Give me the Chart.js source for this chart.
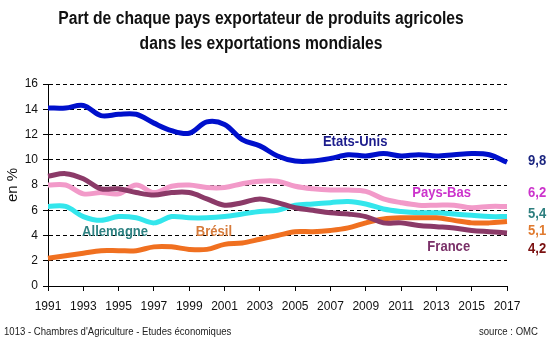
<!DOCTYPE html>
<html>
<head>
<meta charset="utf-8">
<script src="https://cdn.jsdelivr.net/npm/chart.js@4.4.1/dist/chart.umd.min.js"></script>
<style>
  html, body { margin: 0; background: #fff; }
  #wrap { width: 554px; height: 346px; }
</style>
</head>
<body>
<div id="wrap"><canvas id="chart"></canvas></div>
<script>
// --- DATA (% of world agricultural exports) ---
const years = ['1991','1992','1993','1994','1995','1996','1997','1998','1999','2000',
               '2001','2002','2003','2004','2005','2006','2007','2008','2009','2010',
               '2011','2012','2013','2014','2015','2016','2017'];
const etatsUnis = [14.1,14.1,14.3,13.5,13.6,13.6,12.9,12.3,12.1,13.0,12.8,11.6,11.1,10.3,9.9,9.9,10.1,10.4,10.3,10.5,10.3,10.4,10.3,10.4,10.5,10.4,9.8];
const paysBas   = [8.0,8.0,7.3,7.4,7.3,8.0,7.4,7.9,8.0,7.8,7.8,8.1,8.3,8.3,7.9,7.7,7.6,7.6,7.5,6.9,6.6,6.4,6.4,6.4,6.2,6.3,6.3];
const allemagne = [6.3,6.3,5.5,5.2,5.5,5.4,5.0,5.5,5.4,5.4,5.5,5.7,5.9,6.0,6.4,6.5,6.6,6.7,6.5,6.1,5.9,5.8,5.8,5.7,5.6,5.5,5.5];
const bresil    = [2.2,2.4,2.6,2.8,2.8,2.8,3.1,3.1,2.9,2.9,3.3,3.4,3.7,4.0,4.3,4.3,4.4,4.6,5.0,5.3,5.4,5.4,5.4,5.2,5.0,5.0,5.1];
const france    = [8.7,8.9,8.5,7.7,7.7,7.4,7.2,7.4,7.4,6.9,6.4,6.6,6.9,6.6,6.2,6.0,5.8,5.7,5.5,5.0,5.0,4.8,4.7,4.6,4.4,4.3,4.2];
const endLabels = ['9,8', '6,2', '5,4', '5,1', '4,2'];
const titleLines = ['Part de chaque pays exportateur de produits agricoles', 'dans les exportations mondiales'];

const SANS = '"Liberation Sans", Arial, sans-serif';
const SQUEEZE = 0.87; // the original uses a narrow face

// text placed in the plot: [category index, value] in axis units
const notes = [
  { text: 'Etats-Unis', at: [17.4, 11.45], color: '#1c1c8c' },
  { text: 'Pays-Bas',   at: [22.3, 7.36],  color: '#cc33cc' },
  { text: 'Allemagne',  at: [3.8, 4.27],   color: '#2e8282' },
  { text: 'Brésil',     at: [9.4, 4.27],   color: '#d67a3a' },
  { text: 'France',     at: [22.7, 3.1],   color: '#7a3068' }
];
const endNotes = [
  { y: 9.9,  color: '#1c2680' },
  { y: 7.39, color: '#cc33cc' },
  { y: 5.75, color: '#2e7f7f' },
  { y: 4.34, color: '#e07b30' },
  { y: 2.97, color: '#7a1010' }
];

function narrowText(ctx, text, x, y, align) {
  ctx.save();
  ctx.translate(x, y);
  ctx.scale(SQUEEZE, 1);
  ctx.textAlign = align;
  ctx.fillText(text, 0, 0);
  ctx.restore();
}

const textPlugin = {
  id: 'texts',
  afterDraw(chart) {
    const { ctx, scales: { x, y }, chartArea } = chart;
    ctx.save();
    ctx.textBaseline = 'middle';

    // title
    ctx.font = 'bold 18px ' + SANS;
    ctx.fillStyle = '#111';
    narrowText(ctx, titleLines[0], 261, 19, 'center');
    narrowText(ctx, titleLines[1], 261, 44, 'center');

    ctx.font = 'bold 15px ' + SANS;
    notes.forEach(n => {
      ctx.fillStyle = n.color;
      narrowText(ctx, n.text, x.getPixelForValue(n.at[0]), y.getPixelForValue(n.at[1]), 'center');
    });
    endLabels.forEach((t, i) => {
      ctx.fillStyle = endNotes[i].color;
      narrowText(ctx, t, chartArea.right + 21, y.getPixelForValue(endNotes[i].y), 'left');
    });

    // footer
    ctx.font = '11px ' + SANS;
    ctx.fillStyle = '#222';
    ctx.textBaseline = 'alphabetic';
    narrowText(ctx, "1013 - Chambres d'Agriculture - Etudes économiques", 4, 335, 'left');
    narrowText(ctx, 'source : OMC', 538, 335, 'right');
    ctx.restore();
  }
};

const line = (label, data, color) => ({
  label, data,
  borderColor: color,
  borderWidth: 5,
  pointRadius: 0,
  tension: 0.35,
  fill: false
});

new Chart(document.getElementById('chart'), {
  type: 'line',
  data: {
    labels: years,
    datasets: [
      line('France', france, '#8b3a68'),
      line('Etats-Unis', etatsUnis, '#0010cc'),
      line('Brésil', bresil, '#f07020'),
      line('Allemagne', allemagne, '#33e6ec'),
      line('Pays-Bas', paysBas, '#f29ac9')
    ]
  },
  options: {
    responsive: true,
    maintainAspectRatio: false,
    animation: false,
    layout: { padding: { left: 0, right: 47, top: 84, bottom: 30 } },
    plugins: {
      legend: { display: false },
      tooltip: { enabled: false },
      title: { display: false }
    },
    scales: {
      x: {
        offset: false,
        afterFit: s => { s.height = 30; },
        grid: {
          drawOnChartArea: false,
          drawTicks: true,
          tickLength: 5,
          color: c => (c.index % 2 === 0 ? '#000' : 'rgba(0,0,0,0)')
        },
        border: { color: '#000', width: 1 },
        ticks: {
          autoSkip: false,
          maxRotation: 0,
          padding: 8,
          color: '#111',
          font: { family: SANS, size: 12 },
          callback: (v, i) => (i % 2 === 0 ? years[i] : '')
        }
      },
      y: {
        min: 0,
        max: 16,
        afterFit: s => { s.width = 48; },
        grid: { color: '#000', tickLength: 5, tickBorderDash: [] },
        border: { color: '#000', width: 1, dash: [4, 3] },
        ticks: { stepSize: 2, padding: 5, color: '#111', font: { family: SANS, size: 12 } },
        title: {
          display: true,
          text: 'en %',
          color: '#111',
          font: { family: SANS, size: 15 },
          padding: { top: 4, bottom: 0 }
        }
      }
    }
  },
  plugins: [textPlugin]
});
</script>
</body>
</html>
